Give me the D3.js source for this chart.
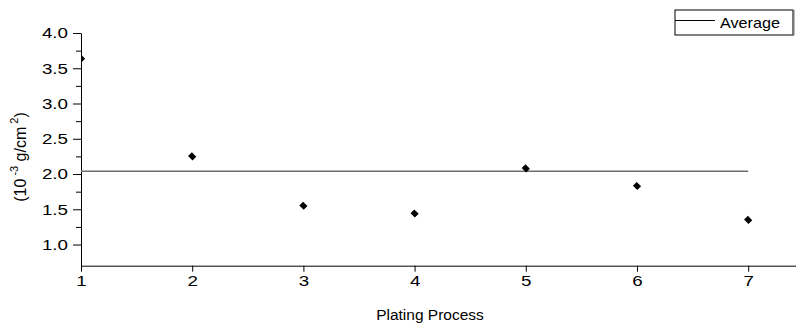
<!DOCTYPE html>
<html>
<head>
<meta charset="utf-8">
<script src="https://cdn.jsdelivr.net/npm/d3@7"></script>
<style>
    body { margin: 0; background: #fff; }
    svg { display: block; font-family: "Liberation Sans", Arial, sans-serif; }
</style>
</head>
<body>
<svg id="chart" width="796" height="333"></svg>
<script>
// plating process number and measured value (10^-3 g/cm^2)
const processes = [1, 2, 3, 4, 5, 6, 7];
const values = [3.64, 2.25, 1.55, 1.44, 2.08, 1.83, 1.35];
const average = 2.04;
const xTicks = [1, 2, 3, 4, 5, 6, 7];
const yTicks = [1.0, 1.5, 2.0, 2.5, 3.0, 3.5, 4.0];
const yMinorTicks = [1.25, 1.75, 2.25, 2.75, 3.25, 3.75];

let svg = d3.select("#chart");

let plotLeft = 81, plotTop = 33, plotBottom = 265.7;

// the original picture is a bit wider than tall, so labels look stretched
function stretch(sel, k) {
    sel.each(function () {
        let len = this.getComputedTextLength();
        d3.select(this).attr("textLength", len * k).attr("lengthAdjust", "spacingAndGlyphs");
    });
}

// x axis runs off the right edge of the picture
let x = d3.scaleLinear().domain([1, 7.43]).range([plotLeft, 796]);
let y = d3.scaleLinear().domain([0.7, 4.0]).range([plotBottom, plotTop]);

svg.append("defs").append("clipPath").attr("id", "plotClip")
    .append("rect")
    .attr("x", plotLeft).attr("y", 0)
    .attr("width", 796 - plotLeft).attr("height", plotBottom);

// minor y ticks
svg.append("g")
    .attr("transform", "translate(" + plotLeft + ",0)")
    .call(d3.axisLeft(y).tickValues(yMinorTicks).tickSize(5).tickFormat(""))
    .call(g => g.select(".domain").remove());

// y axis
let yAxis = svg.append("g")
    .attr("transform", "translate(" + plotLeft + ",0)")
    .call(d3.axisLeft(y).tickValues(yTicks).tickSize(8).tickSizeOuter(0).tickPadding(5)
        .tickFormat(d3.format(".1f")));
yAxis.selectAll("text").attr("font-size", 15).attr("fill", "#000").attr("font-family", null)
    .call(stretch, 1.25);

// x axis
let xAxis = svg.append("g")
    .attr("transform", "translate(0," + plotBottom + ")")
    .call(d3.axisBottom(x).tickValues(xTicks).tickSize(6).tickSizeOuter(0).tickPadding(4)
        .tickFormat(d3.format("d")));
xAxis.selectAll("text").attr("font-size", 15).attr("fill", "#000").attr("font-family", null)
    .call(stretch, 1.25);

// average line
svg.append("line")
    .attr("x1", x(processes[0])).attr("x2", x(processes[processes.length - 1]))
    .attr("y1", y(average)).attr("y2", y(average))
    .attr("stroke", "#6e6e6e").attr("stroke-width", 1.4);

// points
svg.append("g")
    .attr("clip-path", "url(#plotClip)")
    .selectAll("path")
    .data(values)
    .enter()
    .append("path")
    .attr("transform", (d, i) => "translate(" + x(processes[i]) + "," + y(d) + ") rotate(45) scale(1.1,0.95)")
    .attr("d", d3.symbol().type(d3.symbolSquare).size(32))
    .attr("fill", "#000");

// axis titles
svg.append("text")
    .attr("x", 430).attr("y", 320)
    .attr("text-anchor", "middle")
    .attr("font-size", 15.5)
    .text("Plating Process");

let yTitle = svg.append("text")
    .attr("transform", "translate(26,157) rotate(-90)")
    .attr("text-anchor", "middle")
    .attr("font-size", 16);
yTitle.append("tspan").text("(10");
yTitle.append("tspan").attr("dy", -8).attr("font-size", 11).text(" -3");
yTitle.append("tspan").attr("dy", 8).text(" g/cm");
yTitle.append("tspan").attr("dy", -8).attr("font-size", 11).text(" 2");
yTitle.append("tspan").attr("dy", 8).text(")");

// legend
let legend = svg.append("g");
legend.append("rect")
    .attr("x", 675).attr("y", 10).attr("width", 118).attr("height", 25)
    .attr("fill", "#fff").attr("stroke", "#000").attr("stroke-width", 1);
legend.append("line")
    .attr("x1", 793.5).attr("x2", 793.5).attr("y1", 10).attr("y2", 35.5)
    .attr("stroke", "#777").attr("stroke-width", 2);
legend.append("line")
    .attr("x1", 675).attr("x2", 715).attr("y1", 20.5).attr("y2", 20.5)
    .attr("stroke", "#000").attr("stroke-width", 1);
legend.append("text")
    .attr("x", 720).attr("y", 27.5)
    .attr("font-size", 15)
    .attr("textLength", 60).attr("lengthAdjust", "spacingAndGlyphs")
    .text("Average");
</script>
</body>
</html>
